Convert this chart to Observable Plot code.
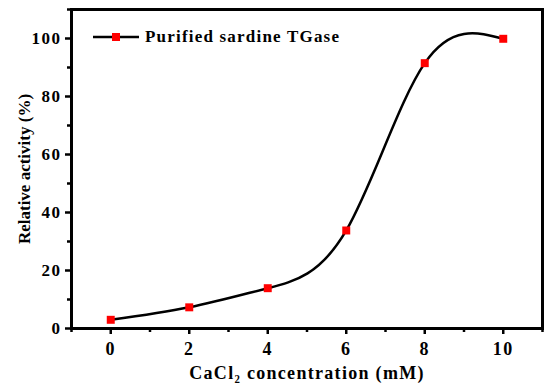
<!DOCTYPE html>
<html><head><meta charset="utf-8">
<script src="https://cdn.jsdelivr.net/npm/d3@7"></script>
<script src="https://cdn.jsdelivr.net/npm/@observablehq/plot@0.6"></script>
<style>
body{margin:0;background:#fff;}
#wrap{position:relative;width:550px;height:392px;}
#legend{position:absolute;left:93px;top:27px;display:flex;align-items:center;font-family:"Liberation Serif",serif;font-weight:bold;font-size:17px;letter-spacing:1.2px;color:#000;}
svg text{fill:#000;}
</style></head>
<body><div id="wrap"><div id="legend"><svg width="48" height="20"><line x1="0" x2="46" y1="10" y2="10" stroke="#000" stroke-width="2.5"/><rect x="19" y="6" width="8" height="8" fill="#ff0000"/></svg><span style="margin-left:4px">Purified sardine TGase</span></div></div>
<script>
const conc = [0, 2, 4, 6, 8, 10];
const activity = [3, 7.3, 13.9, 33.8, 91.5, 99.9];
const xTicks = [0, 2, 4, 6, 8, 10];
const xMinor = [-1, 1, 3, 5, 7, 9, 11];
const yTicks = [0, 20, 40, 60, 80, 100];
const yMinor = [10, 30, 50, 70, 90, 110];

const data = conc.map((c, i) => ({x: c, y: activity[i]}));

const chart = Plot.plot({
  width: 550, height: 392,
  marginLeft: 71, marginRight: 8, marginTop: 9, marginBottom: 64,
  style: {fontFamily: "Liberation Serif, serif", fontWeight: "bold", fontSize: "17px", color: "#000", background: "#fff"},
  x: {domain: [-1, 11]},
  y: {domain: [0, 110]},
  marks: [
    Plot.axisX({ticks: xTicks, tickSize: 6, tickPadding: 8, stroke: "#000", strokeWidth: 2.5, strokeOpacity: 1, fontSize: 18, label: null}),
    Plot.axisX({ticks: xMinor, tickSize: 4, stroke: "#000", strokeWidth: 2.5, strokeOpacity: 1, text: null, label: null}),
    Plot.axisY({ticks: yTicks, tickSize: 6, tickPadding: 4, stroke: "#000", strokeWidth: 2.5, strokeOpacity: 1, label: "Relative activity (%)", labelAnchor: "center", labelArrow: "none", labelOffset: 54}),
    Plot.axisY({ticks: yMinor, tickSize: 4, stroke: "#000", strokeWidth: 2.5, strokeOpacity: 1, text: null, label: null}),
    Plot.text(["CaCl₂ concentration (mM)"], {frameAnchor: "bottom", dy: 50, fontSize: 18, fontWeight: "bold", fill: "#000"}),
    Plot.frame({stroke: "#000", strokeWidth: 3, strokeOpacity: 1}),
    Plot.line(data, {x: "x", y: "y", curve: "natural", stroke: "#000", strokeWidth: 2.5}),
    Plot.dot(data, {x: "x", y: "y", symbol: "square", r: 4.5, fill: "#ff0000", stroke: "none"})
  ]
});
document.getElementById("wrap").prepend(chart);
d3.select(chart).selectAll("text").style("letter-spacing", function() {
  const t = this.textContent;
  return t.startsWith("CaCl") ? "1.3px" : (/^\d+$/.test(t) ? "1.5px" : null);
});
</script></body></html>
